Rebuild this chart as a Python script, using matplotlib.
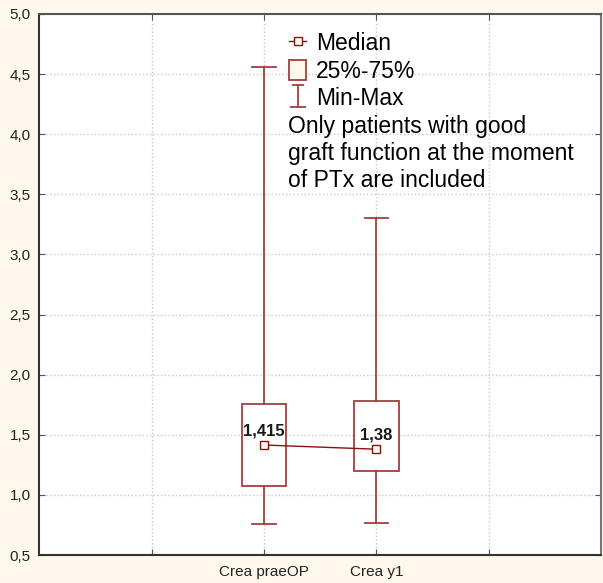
import matplotlib.pyplot as plt
import numpy as np
from matplotlib.lines import Line2D
from matplotlib.patches import Patch
from matplotlib.path import Path

plt.rcParams['font.family'] = ['Liberation Sans', 'DejaVu Sans']

# box plot summary (Min, Q1, Median, Q3, Max)
groups = ['Crea praeOP', 'Crea y1']
positions = [2, 3]
mins = [0.76, 0.77]
q1 = [1.07, 1.20]
medians = [1.415, 1.38]
q3 = [1.755, 1.785]
maxs = [4.56, 3.30]
median_labels = ['1,415', '1,38']

box_col = '#A0403E'
line_col = '#8B1010'
bg_col = '#FEF8EC'

fig = plt.figure(figsize=(6.03, 5.83), dpi=100, facecolor=bg_col)
ax = fig.add_axes([0.065, 0.048, 0.932, 0.928])
ax.set_facecolor('white')

stats = []
for i in range(len(groups)):
    stats.append({'med': medians[i], 'q1': q1[i], 'q3': q3[i],
                  'whislo': mins[i], 'whishi': maxs[i], 'fliers': []})

ax.bxp(stats, positions=positions, widths=0.4, capwidths=0.21,
       showfliers=False, patch_artist=True,
       boxprops=dict(facecolor='white', edgecolor=box_col, linewidth=1.3),
       whiskerprops=dict(color=box_col, linewidth=1.3),
       capprops=dict(color=box_col, linewidth=1.3),
       medianprops=dict(visible=False), zorder=3)

# medians joined by a line
ax.plot(positions, medians, color=line_col, linewidth=1.0, marker='s',
        markersize=6, markerfacecolor='white', markeredgecolor=line_col,
        markeredgewidth=1.0, zorder=4)

for x, m, lab in zip(positions, medians, median_labels):
    ax.annotate(lab, (x, m), xytext=(0, 5), textcoords='offset points',
                ha='center', va='bottom', fontsize=12, fontweight='bold',
                color='#1A1A1A', zorder=5)

ax.set_xlim(0, 5)
ax.set_ylim(0.5, 5.0)
yt = np.arange(0.5, 5.01, 0.5)
ax.set_yticks(yt)
ax.set_yticklabels([f'{v:.1f}'.replace('.', ',') for v in yt], fontsize=11)
ax.set_xticks([1, 2, 3, 4])
ax.set_xticklabels(['', groups[0], groups[1], ''], fontsize=11)
ax.tick_params(axis='both', direction='in', length=4, color='#555555',
               top=True, right=True, colors='#222222')
ax.tick_params(axis='x', pad=7)
ax.tick_params(axis='y', pad=6)

ax.grid(True, linestyle=':', color='#C8C8C8', linewidth=1.0)
ax.set_axisbelow(True)

for side in ['left', 'bottom']:
    ax.spines[side].set_linewidth(1.5)
    ax.spines[side].set_color('#333333')
ax.spines['top'].set_linewidth(1.5)
ax.spines['top'].set_color('#555555')
ax.spines['right'].set_linewidth(1.5)
ax.spines['right'].set_color('#777777')

# I-shaped marker for the Min-Max legend entry
whisker_path = Path([(-0.5, 1), (0.5, 1), (0, 1), (0, -1), (-0.7, -1), (0.7, -1)],
                    [Path.MOVETO, Path.LINETO, Path.MOVETO, Path.LINETO,
                     Path.MOVETO, Path.LINETO])

handles = [
    Line2D([0], [0], color=line_col, linewidth=1.0, marker='s', markersize=6,
           markerfacecolor='white', markeredgecolor=line_col),
    Patch(facecolor=bg_col, edgecolor=box_col, linewidth=1.3),
    Line2D([0], [0], linestyle='none', marker=whisker_path, markersize=16,
           color=box_col, markeredgewidth=1.3),
]
leg = ax.legend(handles, ['Median', '25%-75%', 'Min-Max'],
                loc='upper left', bbox_to_anchor=(0.445, 0.966),
                frameon=False, fontsize=16.5, handlelength=0.75,
                handleheight=1.0, handletextpad=0.4, labelspacing=0.19,
                borderaxespad=0.0, borderpad=0.0)

ax.text(0.443, 0.814, 'Only patients with good\ngraft function at the moment\nof PTx are included',
        transform=ax.transAxes, ha='left', va='top', fontsize=16.5,
        linespacing=1.22, color='black')

fig.savefig('out.png', dpi=100, facecolor=bg_col)
